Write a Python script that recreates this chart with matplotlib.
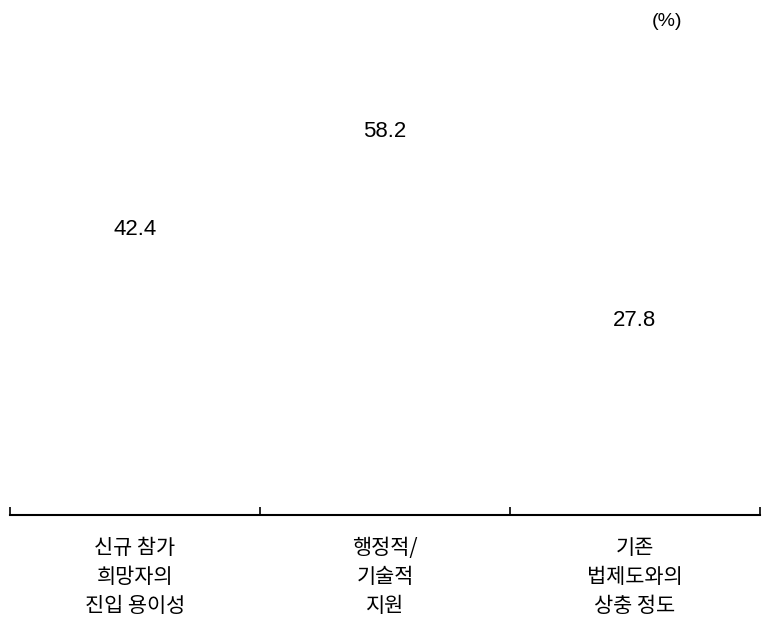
import matplotlib
matplotlib.use("Agg")
import matplotlib.pyplot as plt

categories = ["신규 참가\n희망자의\n진입 용이성", "행정적/\n기술적\n지원", "기존\n법제도와의\n상충 정도"]
values = [42.4, 58.2, 27.8]

plt.rcParams['font.family'] = ['Liberation Sans', 'Noto Sans CJK KR', 'DejaVu Sans']

fig = plt.figure(figsize=(7.65, 6.2), dpi=100)
ax = fig.add_axes([10 / 765, 1 - 515 / 620, 750 / 765, 475 / 620])

x = range(len(categories))
ax.bar(x, values, width=0.6, color="white")
ax.set_xlim(-0.5, len(categories) - 0.5)
ax.set_ylim(0, 475 / 6.2)

for xi, v in zip(x, values):
    ax.annotate(f"{v:.1f}", (xi, v), xytext=(0, 16), textcoords="offset points",
                ha="center", va="center", fontsize=16)

for s in ["top", "left", "right"]:
    ax.spines[s].set_visible(False)
ax.spines["bottom"].set_linewidth(1.5)
ax.set_yticks([])

# ticks at category boundaries, pointing up
ax.set_xticks([i - 0.5 for i in range(len(categories) + 1)])
ax.set_xticklabels([])
ax.tick_params(axis="x", direction="in", length=6, width=1.2)

for xi, lab in zip(x, categories):
    ax.annotate(lab, (xi, 0), xytext=(0, -16), textcoords="offset points",
                ha="center", va="top", fontsize=15, linespacing=1.4,
                family=['Noto Sans CJK KR', 'DejaVu Sans'])

fig.text(667 / 765, 1 - 21 / 620, "(%)", ha="center", va="center", fontsize=14)

fig.savefig("out.png", dpi=100)
